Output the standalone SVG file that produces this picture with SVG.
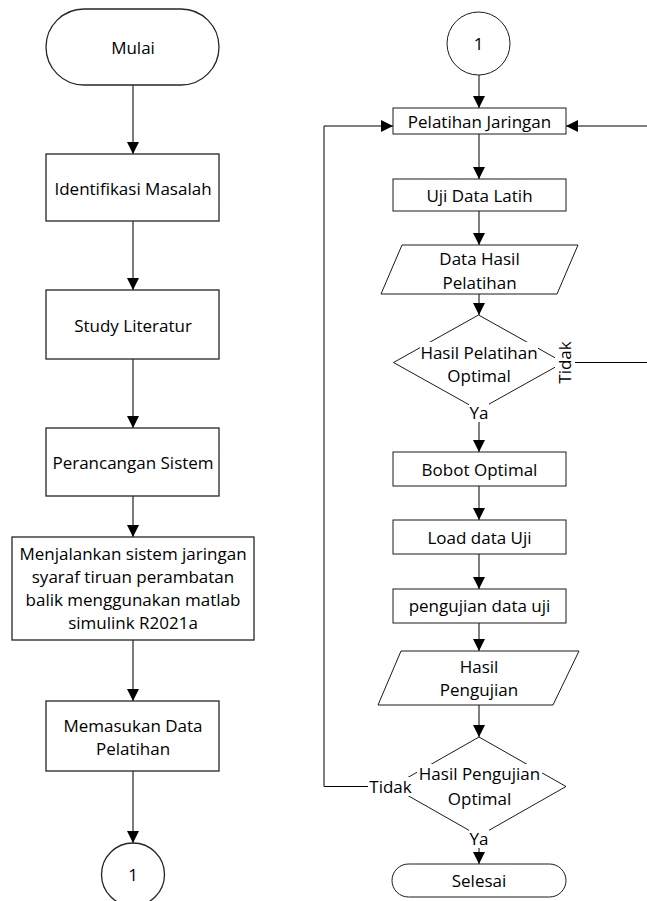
<svg xmlns="http://www.w3.org/2000/svg" width="647" height="901" viewBox="0 0 647 901">
<style>
.shape{fill:#fff;stroke:#262626;stroke-width:1.3}
.shapeR{fill:#fff;stroke:#1a1a1a;stroke-width:1}
.t{font-family:"Open Sans","Liberation Sans",sans-serif;font-size:17px;fill:#000;text-anchor:middle;dominant-baseline:central}
.cl{fill:none;stroke:#6e6e6e;stroke-width:1.8}
.cr{fill:none;stroke:#000;stroke-width:1}
.bg{fill:#fff;stroke:none}
</style>
<defs>
<marker id="ah" markerUnits="userSpaceOnUse" markerWidth="13" markerHeight="13" refX="12" refY="6" orient="auto">
<path d="M0,0 L12,6 L0,12 z" fill="#000"/>
</marker>
</defs>
<g id="connectors">
<path class="cl" d="M133,85 V154" marker-end="url(#ah)"/>
<path class="cl" d="M133,221 V290" marker-end="url(#ah)"/>
<path class="cl" d="M133,359 V428" marker-end="url(#ah)"/>
<path class="cl" d="M133,496 V537" marker-end="url(#ah)"/>
<path class="cl" d="M133,640 V701" marker-end="url(#ah)"/>
<path class="cl" d="M133,771 V843" marker-end="url(#ah)"/>
<path class="cr" d="M479,75 V108" marker-end="url(#ah)"/>
<path class="cr" d="M479,134 V179" marker-end="url(#ah)"/>
<path class="cr" d="M479,211 V245" marker-end="url(#ah)"/>
<path class="cr" d="M479,294 V315" marker-end="url(#ah)"/>
<path class="cr" d="M479,410 V452" marker-end="url(#ah)"/>
<path class="cr" d="M479,486 V520" marker-end="url(#ah)"/>
<path class="cr" d="M479,554 V589" marker-end="url(#ah)"/>
<path class="cr" d="M479,623 V651" marker-end="url(#ah)"/>
<path class="cr" d="M479,705 V737" marker-end="url(#ah)"/>
<path class="cr" d="M479,836 V864" marker-end="url(#ah)"/>
<path class="cr" d="M563,362.5 H680 V126 H566" marker-end="url(#ah)"/>
<path class="cr" d="M392,786.5 H324 V126 H393" marker-end="url(#ah)"/>
</g>
<g id="mulai">
<rect class="shape" x="46" y="9" width="173" height="76" rx="38" ry="38"/>
<text class="t" x="133" y="47">Mulai</text>
</g>
<g id="identifikasi">
<rect class="shape" x="46" y="154" width="173" height="67"/>
<text class="t" x="133" y="188">Identifikasi Masalah</text>
</g>
<g id="study">
<rect class="shape" x="46" y="290" width="173" height="69"/>
<text class="t" x="133" y="325">Study Literatur</text>
</g>
<g id="perancangan">
<rect class="shape" x="46" y="428" width="173" height="68"/>
<text class="t" x="133" y="462">Perancangan Sistem</text>
</g>
<g id="menjalankan">
<rect class="shape" x="12" y="537" width="242" height="103"/>
<text class="t" x="133" y="553">Menjalankan sistem jaringan</text>
<text class="t" x="133" y="576">syaraf tiruan perambatan</text>
<text class="t" x="133" y="599">balik menggunakan matlab</text>
<text class="t" x="133" y="622">simulink R2021a</text>
</g>
<g id="memasukan">
<rect class="shape" x="46" y="701" width="173" height="70"/>
<text class="t" x="133" y="725">Memasukan Data</text>
<text class="t" x="133" y="748">Pelatihan</text>
</g>
<g id="connector1-left">
<circle class="shape" cx="133" cy="874.5" r="31.5"/>
<text class="t" x="133" y="874">1</text>
</g>
<g id="connector1-right">
<circle class="shapeR" cx="478.5" cy="43.5" r="31.5"/>
<text class="t" x="478.5" y="43">1</text>
</g>
<g id="pelatihan">
<rect class="shapeR" x="393" y="108" width="173" height="26"/>
<text class="t" x="479.5" y="121">Pelatihan Jaringan</text>
</g>
<g id="uji">
<rect class="shapeR" x="393" y="179" width="173" height="32"/>
<text class="t" x="479.5" y="195">Uji Data Latih</text>
</g>
<g id="datahasil">
<polygon class="shapeR" points="402,245 578,245 557,294 381,294"/>
<text class="t" x="479.5" y="258">Data Hasil</text>
<text class="t" x="479.5" y="282">Pelatihan</text>
</g>
<g id="decision1">
<polygon class="shapeR" points="478.5,315 563.5,362.5 478.5,410 393.5,362.5"/>
<rect class="bg" x="420" y="342" width="118" height="19"/>
<text class="t" x="479" y="352">Hasil Pelatihan</text>
<text class="t" x="479" y="375">Optimal</text>
<rect class="bg" x="555" y="340" width="20" height="45"/>
<text class="t" transform="translate(564.5,362.5) rotate(-90)" x="0" y="0">Tidak</text>
<rect class="bg" x="469" y="403" width="20" height="19"/>
<text class="t" x="479" y="412">Ya</text>
</g>
<g id="bobot">
<rect class="shapeR" x="393" y="452" width="173" height="34"/>
<text class="t" x="479.5" y="469">Bobot Optimal</text>
</g>
<g id="load">
<rect class="shapeR" x="393" y="520" width="173" height="34"/>
<text class="t" x="479.5" y="537">Load data Uji</text>
</g>
<g id="pengujian">
<rect class="shapeR" x="393" y="589" width="173" height="34"/>
<text class="t" x="479.5" y="605">pengujian data uji</text>
</g>
<g id="hasilpengujian">
<polygon class="shapeR" points="401,651 579,651 553,705 378,705"/>
<text class="t" x="479" y="666">Hasil</text>
<text class="t" x="479" y="689">Pengujian</text>
</g>
<g id="decision2">
<polygon class="shapeR" points="479,737 566,786.5 479,836 392,786.5"/>
<rect class="bg" x="417" y="764" width="125" height="19"/>
<text class="t" x="479.5" y="773">Hasil Pengujian</text>
<text class="t" x="479.5" y="798">Optimal</text>
<rect class="bg" x="368" y="777" width="45" height="19"/>
<text class="t" x="390.5" y="786.5">Tidak</text>
<rect class="bg" x="469" y="829" width="20" height="19"/>
<text class="t" x="479" y="838">Ya</text>
</g>
<g id="selesai">
<rect class="shapeR" x="392" y="864" width="174" height="33" rx="16.5" ry="16.5"/>
<text class="t" x="479" y="880.5">Selesai</text>
</g>
</svg>
